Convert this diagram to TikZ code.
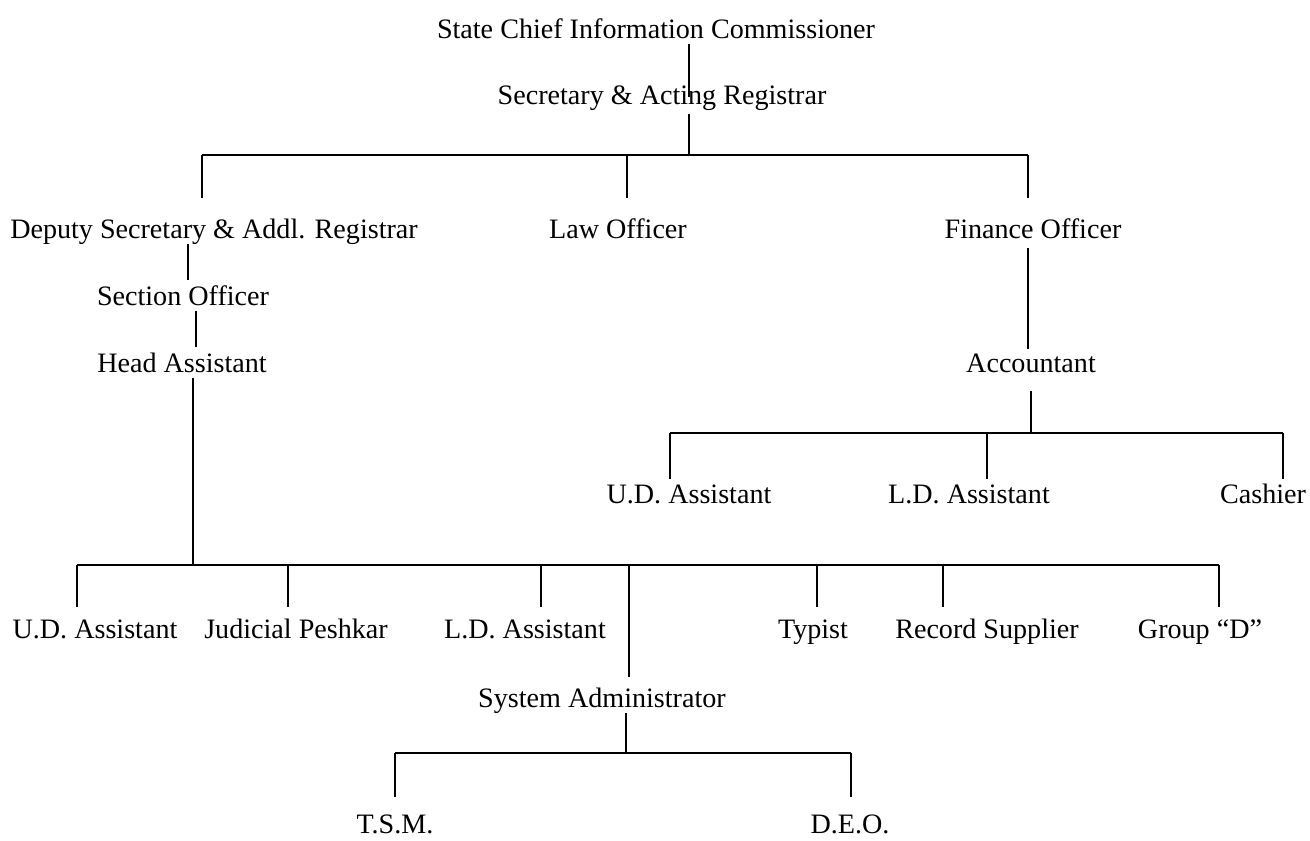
\documentclass[tikz,border=0pt]{standalone}
\usepackage{fontspec}
\setmainfont{Liberation Serif}
\begin{document}
\begin{tikzpicture}[x=0.02cm, y=-0.02cm, line width=1pt,
    post/.style={anchor=base, inner sep=0pt, text height=11pt, text depth=3pt, font=\fontsize{16}{19}\selectfont}]
    \useasboundingbox (0,0) rectangle (1310,840);

    \node[post] (chief) at (656, 38) {State Chief Information Commissioner};
    \node[post] (sec) at (662, 104) {Secretary \& Acting Registrar};
    \node[post] (dep) at (214, 238) {Deputy Secretary \& Addl. Registrar};
    \node[post] (law) at (618, 238) {Law Officer};
    \node[post] (fin) at (1033, 238) {Finance Officer};
    \node[post] (so) at (183, 305) {Section Officer};
    \node[post] (ha) at (182, 372) {Head Assistant};
    \node[post] (acc) at (1031, 372) {Accountant};
    \node[post] (fud) at (689, 503) {U.D. Assistant};
    \node[post] (fld) at (969, 503) {L.D. Assistant};
    \node[post] (cash) at (1263, 503) {Cashier};
    \node[post] (ud) at (95, 638) {U.D. Assistant};
    \node[post] (jp) at (296, 638) {Judicial Peshkar};
    \node[post] (ld) at (525, 638) {L.D. Assistant};
    \node[post] (typ) at (813, 638) {Typist};
    \node[post] (rec) at (987, 638) {Record Supplier};
    \node[post] (grd) at (1200, 638) {Group “D”};
    \node[post] (sa) at (602, 707) {System Administrator};
    \node[post] (tsm) at (395, 833) {T.S.M.};
    \node[post] (deo) at (850, 833) {D.E.O.};

    % top
    \coordinate (top) at (689, 0);
    \draw (chief.south -| top) -- ([yshift=-7.6pt]sec.north -| top);

    \coordinate (bus1) at (689, 155);
    \coordinate (bus1dep) at (202, 155);
    \coordinate (bus1law) at (627, 155);
    \coordinate (bus1fin) at (1028, 155);
    \draw ([yshift=-2pt]sec.south -| bus1) -- (bus1);
    \draw (bus1dep) -- (bus1fin);
    \draw (bus1dep) -- ([yshift=11pt]bus1dep |- dep.north);
    \draw (bus1law) -- ([yshift=11pt]bus1law |- law.north);
    \draw (bus1fin) -- ([yshift=11pt]bus1fin |- fin.north);

    % finance side
    \draw ([yshift=-2pt]fin.south -| bus1fin) -- ([yshift=1.5pt]acc.north -| bus1fin);
    \coordinate (bus2) at (1031, 433);
    \coordinate (bus2ud) at (670, 433);
    \coordinate (bus2ld) at (987, 433);
    \coordinate (bus2cash) at (1283, 433);
    \draw ([yshift=-7.4pt]acc.south -| bus2) -- (bus2);
    \draw (bus2ud) -- (bus2cash);
    \draw (bus2ud) -- ([yshift=2pt]bus2ud |- fud.north);
    \draw (bus2ld) -- ([yshift=2pt]bus2ld |- fld.north);
    \draw (bus2cash) -- ([yshift=2pt]bus2cash |- cash.north);

    % deputy side
    \coordinate (left) at (188, 0);
    \coordinate (leftb) at (196, 0);
    \draw (dep.south -| left) -- ([yshift=3pt]so.north -| left);
    \draw (so.south -| leftb) -- ([yshift=3pt]ha.north -| leftb);

    \coordinate (bus3) at (193, 565);
    \coordinate (bus3ud) at (77, 565);
    \coordinate (bus3jp) at (288, 565);
    \coordinate (bus3ld) at (541, 565);
    \coordinate (bus3sa) at (629, 565);
    \coordinate (bus3typ) at (817, 565);
    \coordinate (bus3rec) at (943, 565);
    \coordinate (bus3grd) at (1219, 565);
    \draw (ha.south -| bus3) -- (bus3);
    \draw (bus3ud) -- (bus3grd);
    \draw (bus3ud) -- ([yshift=6pt]bus3ud |- ud.north);
    \draw (bus3jp) -- ([yshift=6pt]bus3jp |- jp.north);
    \draw (bus3ld) -- ([yshift=6pt]bus3ld |- ld.north);
    \draw (bus3sa) -- ([yshift=5.5pt]bus3sa |- sa.north);
    \draw (bus3typ) -- ([yshift=6pt]bus3typ |- typ.north);
    \draw (bus3rec) -- ([yshift=6pt]bus3rec |- rec.north);
    \draw (bus3grd) -- ([yshift=6pt]bus3grd |- grd.north);

    % system administrator
    \coordinate (bus4) at (626, 753);
    \coordinate (bus4tsm) at (395, 753);
    \coordinate (bus4deo) at (851, 753);
    \draw (sa.south -| bus4) -- (bus4);
    \draw (bus4tsm) -- (bus4deo);
    \draw (bus4tsm) -- ([yshift=9pt]bus4tsm |- tsm.north);
    \draw (bus4deo) -- ([yshift=9pt]bus4deo |- deo.north);
\end{tikzpicture}
\end{document}
